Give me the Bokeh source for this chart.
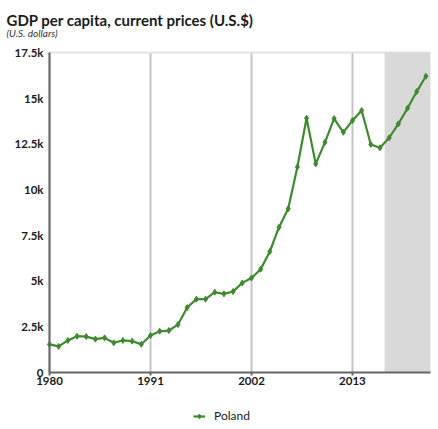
from bokeh.plotting import figure
from bokeh.models import (FixedTicker, BoxAnnotation, Label, Legend, LegendItem)
from bokeh.embed import file_html
from bokeh.resources import INLINE

years = list(range(1980, 2022))
gdp_per_capita = [
    1510, 1400, 1730, 1960, 1940, 1800, 1870, 1600, 1730, 1690,
    1520, 2000, 2230, 2270, 2600, 3530, 3990, 3990, 4370, 4280,
    4410, 4880, 5150, 5630, 6600, 7930, 8940, 11230, 13900, 11400,
    12580, 13880, 13130, 13770, 14320, 12460, 12280, 12830, 13590, 14450,
    15360, 16200,
]
series_name = "Poland"
x_ticks = [1980, 1991, 2002, 2013]
y_ticks = [0, 2500, 5000, 7500, 10000, 12500, 15000, 17500]
y_tick_labels = ["0", "2.5k", "5k", "7.5k", "10k", "12.5k", "15k", "17.5k"]
x_start, x_end = 1980, 2021.5
y_start, y_end = 0, 17500
projection_start = 2016.5
title_text = "GDP per capita, current prices (U.S.$)"
subtitle_text = "(U.S. dollars)"

GREEN = "#3e8a2e"
FONT = "Lato"
W, H = 438, 429
# plot-area placement in pixels
PL, PR, PT, PB = 49, 430, 52, 371.5
kx = (PR - PL) / (x_end - x_start)
ky = (PB - PT) / (y_end - y_start)

p = figure(width=W, height=H, output_backend="svg", toolbar_location=None,
           title=None,
           x_range=(x_start - PL / kx, x_end + (W - PR) / kx),
           y_range=(y_start - (H - PB) / ky, y_end + PT / ky),
           min_border=0, min_border_left=0, min_border_right=0,
           min_border_top=0, min_border_bottom=0)
p.outline_line_color = None
p.background_fill_color = "white"
p.border_fill_color = "white"

# projection shading
p.add_layout(BoxAnnotation(left=projection_start, right=x_end,
                           bottom=y_start, top=y_end, fill_color="#d9d9d9",
                           fill_alpha=1, line_color=None, level="underlay"))

# axes fixed inside the plot area
p.xaxis.fixed_location = y_start
p.yaxis.fixed_location = x_start
p.xaxis.bounds = (x_start, x_end)
p.yaxis.bounds = (y_start, y_end)
p.xaxis.ticker = FixedTicker(ticks=x_ticks)
p.yaxis.ticker = FixedTicker(ticks=y_ticks)
p.yaxis.major_label_overrides = {t: l for t, l in zip(y_ticks, y_tick_labels)}
for ax in (p.xaxis[0], p.yaxis[0]):
    ax.axis_line_color = "#666666"
    ax.axis_line_width = 2
    ax.minor_tick_line_color = None
    ax.major_label_text_font = FONT
    ax.major_label_text_font_style = "bold"
    ax.major_label_text_font_size = "11.5px"
    ax.major_label_text_color = "#1a1a1a"
p.yaxis.major_tick_line_color = None
p.yaxis.major_tick_out = 0
p.yaxis.major_tick_in = 0
p.yaxis.major_label_standoff = 6
p.xaxis.major_tick_line_color = "#666666"
p.xaxis.major_tick_line_width = 2
p.xaxis.major_tick_out = 3
p.xaxis.major_tick_in = 0
p.xaxis.major_label_standoff = 2

p.xgrid.grid_line_color = "#c4c4c4"
p.xgrid.grid_line_width = 2
p.xgrid.bounds = (x_start, x_end)
p.xgrid.cross_bounds = (y_start, y_end)
p.ygrid.ticker = FixedTicker(ticks=[y_end])
p.ygrid.cross_bounds = (x_start, x_end)
p.ygrid.grid_line_color = "#e3e3e3"
p.ygrid.grid_line_width = 2

line_r = p.line(years, gdp_per_capita, line_color=GREEN, line_width=2.2)
pts_r = p.scatter(years, gdp_per_capita, marker="diamond", size=6,
                  fill_color=GREEN, line_color=GREEN)

legend = Legend(items=[LegendItem(label=series_name, renderers=[line_r, pts_r])],
                location=(193, 6), orientation="horizontal",
                glyph_width=12, glyph_height=12, label_height=12,
                label_standoff=9, padding=0, margin=0, spacing=0,
                border_line_color=None, background_fill_alpha=0,
                label_text_font=FONT, label_text_font_size="12px",
                label_text_color="#1a1a1a")
p.add_layout(legend)

p.add_layout(Label(x=6, y=H - 19, x_units="screen", y_units="screen",
                   text=title_text, text_font=FONT, text_font_style="bold",
                   text_font_size="15px", text_color="#1a1a1a",
                   text_baseline="alphabetic"))
p.add_layout(Label(x=6, y=H - 32, x_units="screen", y_units="screen",
                   text=subtitle_text, text_font=FONT, text_font_style="italic",
                   text_font_size="10px", text_color="#333333",
                   text_baseline="alphabetic"))

open("out.html", "w").write(file_html(p, INLINE))
